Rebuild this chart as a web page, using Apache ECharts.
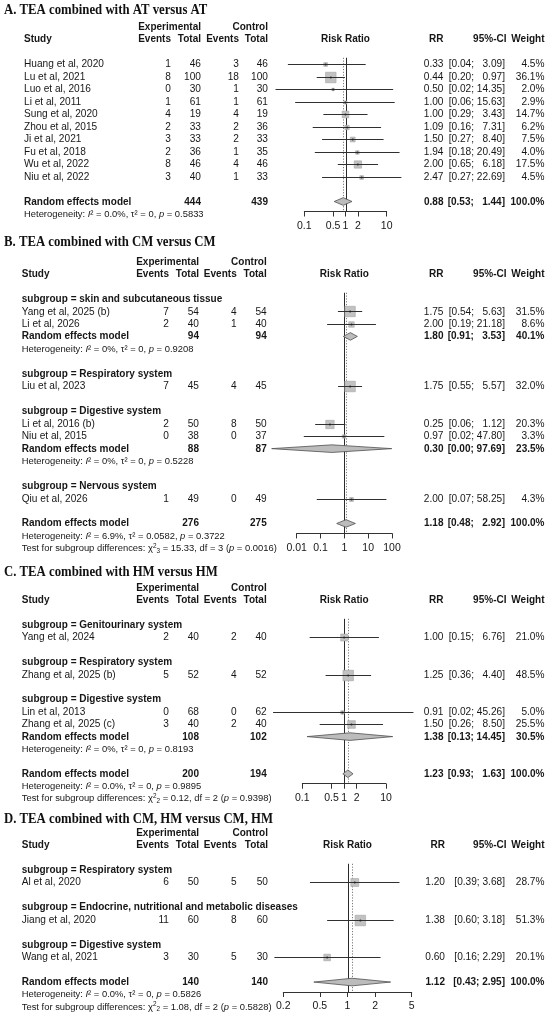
<!DOCTYPE html>
<html>
<head>
<meta charset="utf-8">
<script src="https://cdn.jsdelivr.net/npm/echarts@6/dist/echarts.min.js"></script>
<style>
  html, body { margin: 0; padding: 0; background: #fff; }
  #chart { width: 550px; height: 1033px; }
</style>
</head>
<body>
<div id="chart"></div>
<script>
// ---------- A. TEA combined with AT versus AT ----------
const A_title = 'A. TEA combined with AT versus AT';
const A_study = ['Huang et al, 2020', 'Lu et al, 2021', 'Luo et al, 2016', 'Li et al, 2011', 'Sung et al, 2020',
  'Zhou et al, 2015', 'Ji et al, 2021', 'Fu et al, 2018', 'Wu et al, 2022', 'Niu et al, 2022'];
const A_expEv = [1, 8, 0, 1, 4, 2, 3, 2, 8, 3];
const A_expN = [46, 100, 30, 61, 19, 33, 33, 36, 46, 40];
const A_ctlEv = [3, 18, 1, 1, 4, 2, 2, 1, 4, 1];
const A_ctlN = [46, 100, 30, 61, 19, 36, 33, 35, 46, 33];
const A_rr = [0.33, 0.44, 0.50, 1.00, 1.00, 1.09, 1.50, 1.94, 2.00, 2.47];
const A_lo = [0.04, 0.20, 0.02, 0.06, 0.29, 0.16, 0.27, 0.18, 0.65, 0.27];
const A_hi = [3.09, 0.97, 14.35, 15.63, 3.43, 7.31, 8.40, 20.49, 6.18, 22.69];
const A_w = [4.5, 36.1, 2.0, 2.9, 14.7, 6.2, 7.5, 4.0, 17.5, 4.5];
const A_overall = [0.88, 0.53, 1.44, 100.0];
const A_overallN = [444, 439];
const A_overallHet = ['0.0%', '0', '0.5833'];
const A_ticks = [0.1, 0.5, 1, 2, 10];

// ---------- B. TEA combined with CM versus CM ----------
const B_title = 'B. TEA combined with CM versus CM';
const B_groups = ['skin and subcutaneous tissue', 'Respiratory system', 'Digestive system', 'Nervous system'];
const B_study = ['Yang et al, 2025 (b)', 'Li et al, 2026', 'Liu et al, 2023', 'Li et al, 2016 (b)', 'Niu et al, 2015', 'Qiu et al, 2026'];
const B_group = [0, 0, 1, 2, 2, 3];
const B_expEv = [7, 2, 7, 2, 0, 1];
const B_expN = [54, 40, 45, 50, 38, 49];
const B_ctlEv = [4, 1, 4, 8, 0, 0];
const B_ctlN = [54, 40, 45, 50, 37, 49];
const B_rr = [1.75, 2.00, 1.75, 0.25, 0.97, 2.00];
const B_lo = [0.54, 0.19, 0.55, 0.06, 0.02, 0.07];
const B_hi = [5.63, 21.18, 5.57, 1.12, 47.80, 58.25];
const B_w = [31.5, 8.6, 32.0, 20.3, 3.3, 4.3];
const B_subRes = [[1.80, 0.91, 3.53, 40.1], null, [0.30, 0.0009, 97.69, 23.5], null];
const B_subN = [[94, 94], null, [88, 87], null];
const B_subHet = [['0%', '0', '0.9208'], null, ['0%', '0', '0.5228'], null];
const B_overall = [1.18, 0.48, 2.92, 100.0];
const B_overallN = [276, 275];
const B_overallHet = ['6.9%', '0.0582', '0.3722'];
const B_test = ['15.33', '3', '0.0016'];
const B_ticks = [0.01, 0.1, 1, 10, 100];

// ---------- C. TEA combined with HM versus HM ----------
const C_title = 'C. TEA combined with HM versus HM';
const C_groups = ['Genitourinary system', 'Respiratory system', 'Digestive system'];
const C_study = ['Yang et al, 2024', 'Zhang et al, 2025 (b)', 'Lin et al, 2013', 'Zhang et al, 2025 (c)'];
const C_group = [0, 1, 2, 2];
const C_expEv = [2, 5, 0, 3];
const C_expN = [40, 52, 68, 40];
const C_ctlEv = [2, 4, 0, 2];
const C_ctlN = [40, 52, 62, 40];
const C_rr = [1.00, 1.25, 0.91, 1.50];
const C_lo = [0.15, 0.36, 0.02, 0.26];
const C_hi = [6.76, 4.40, 45.26, 8.50];
const C_w = [21.0, 48.5, 5.0, 25.5];
const C_subRes = [null, null, [1.38, 0.13, 14.45, 30.5]];
const C_subN = [null, null, [108, 102]];
const C_subHet = [null, null, ['0%', '0', '0.8193']];
const C_overall = [1.23, 0.93, 1.63, 100.0];
const C_overallN = [200, 194];
const C_overallHet = ['0.0%', '0', '0.9895'];
const C_test = ['0.12', '2', '0.9398'];
const C_ticks = [0.1, 0.5, 1, 2, 10];

// ---------- D. TEA combined with CM, HM versus CM, HM ----------
const D_title = 'D. TEA combined with CM, HM versus CM, HM';
const D_groups = ['Respiratory system', 'Endocrine, nutritional and metabolic diseases', 'Digestive system'];
const D_study = ['Al et al, 2020', 'Jiang et al, 2020', 'Wang et al, 2021'];
const D_group = [0, 1, 2];
const D_expEv = [6, 11, 3];
const D_expN = [50, 60, 30];
const D_ctlEv = [5, 8, 5];
const D_ctlN = [50, 60, 30];
const D_rr = [1.20, 1.38, 0.60];
const D_lo = [0.39, 0.60, 0.16];
const D_hi = [3.68, 3.18, 2.29];
const D_w = [28.7, 51.3, 20.1];
const D_subRes = [null, null, null];
const D_subN = [null, null, null];
const D_subHet = [null, null, null];
const D_overall = [1.12, 0.43, 2.95, 100.0];
const D_overallN = [140, 140];
const D_overallHet = ['0.0%', '0', '0.5826'];
const D_test = ['1.08', '2', '0.5828'];
const D_ticks = [0.2, 0.5, 1, 2, 5];

// panel descriptors built from the arrays above
const panels = [
  { title: A_title, study: A_study, groups: null, group: null, expEv: A_expEv, expN: A_expN, ctlEv: A_ctlEv, ctlN: A_ctlN,
    rr: A_rr, lo: A_lo, hi: A_hi, w: A_w, overall: A_overall, overallN: A_overallN, overallHet: A_overallHet, test: null, ticks: A_ticks },
  { title: B_title, study: B_study, groups: B_groups, group: B_group, expEv: B_expEv, expN: B_expN, ctlEv: B_ctlEv, ctlN: B_ctlN,
    rr: B_rr, lo: B_lo, hi: B_hi, w: B_w, subRes: B_subRes, subN: B_subN, subHet: B_subHet,
    overall: B_overall, overallN: B_overallN, overallHet: B_overallHet, test: B_test, ticks: B_ticks },
  { title: C_title, study: C_study, groups: C_groups, group: C_group, expEv: C_expEv, expN: C_expN, ctlEv: C_ctlEv, ctlN: C_ctlN,
    rr: C_rr, lo: C_lo, hi: C_hi, w: C_w, subRes: C_subRes, subN: C_subN, subHet: C_subHet,
    overall: C_overall, overallN: C_overallN, overallHet: C_overallHet, test: C_test, ticks: C_ticks },
  { title: D_title, study: D_study, groups: D_groups, group: D_group, expEv: D_expEv, expN: D_expN, ctlEv: D_ctlEv, ctlN: D_ctlN,
    rr: D_rr, lo: D_lo, hi: D_hi, w: D_w, subRes: D_subRes, subN: D_subN, subHet: D_subHet,
    overall: D_overall, overallN: D_overallN, overallHet: D_overallHet, test: D_test, ticks: D_ticks }
];

// pixel layout of each panel
const layouts = [
  { titleY: 10,  row0: 64,  step: 12.5,  left: 304.3, right: 386.7, textX: 24,   cols: [171, 201, 239, 268],   rrX: 443.5 },
  { titleY: 242, row0: 299, step: 12.47, left: 296.6, right: 392,   textX: 21.7, cols: [169, 199, 236.7, 266.7], rrX: 443.5 },
  { titleY: 572, row0: 625, step: 12.4,  left: 302.3, right: 386,   textX: 21.7, cols: [169, 199, 236.7, 266.7], rrX: 443.5 },
  { titleY: 819, row0: 870, step: 12.45, left: 283.3, right: 411.7, textX: 21.7, cols: [169, 199, 236.7, 268],   rrX: 445 }
];
const CI_X = 505, W_X = 544.5, BOX_MAX = 10.5, DIA_H = 3.8;
const FONT = '"Liberation Sans", Arial, sans-serif';
const INK = '#161616';

// body text: slightly tall, horizontally narrowed like the source figure
function txt(x, y, text, align, bold) {
  return { type: 'text', x: x, y: y, scaleX: bold ? 0.91 : 0.92,
    style: { text: text, fontSize: 11, fontWeight: bold ? 'bold' : 'normal',
      fontFamily: FONT, fill: INK, align: align || 'left', verticalAlign: 'middle' } };
}
function richTxt(x, y, text) {
  const base = { fontSize: 9.6, fontFamily: FONT, fill: INK };
  return { type: 'text', x: x, y: y, scaleX: 0.98, style: Object.assign({ text: text, align: 'left', verticalAlign: 'middle',
    rich: { n: Object.assign({}, base, { lineHeight: 12 }), i: Object.assign({}, base, { fontStyle: 'italic', lineHeight: 12 }),
      sup: Object.assign({}, base, { fontSize: 6.5, verticalAlign: 'top', lineHeight: 12 }),
      sub: Object.assign({}, base, { fontSize: 6.5, verticalAlign: 'bottom', lineHeight: 12 }) } }, base) };
}

function buildRows(P) {
  const rows = [{ r: -3, kind: 'hdr1' }, { r: -2, kind: 'hdr2' }];
  const studyRows = [];
  const diamonds = [];
  let r = 0;
  if (!P.groups) {
    P.study.forEach((s, i) => { rows.push({ r: r, kind: 'study', i: i }); studyRows[i] = r; r++; });
    r++;
  } else {
    P.groups.forEach((g, gi) => {
      rows.push({ r: r, kind: 'sub', text: 'subgroup = ' + g }); r++;
      P.study.forEach((s, i) => {
        if (P.group[i] === gi) { rows.push({ r: r, kind: 'study', i: i }); studyRows[i] = r; r++; }
      });
      if (P.subRes[gi]) {
        rows.push({ r: r, kind: 're', n: P.subN[gi], res: P.subRes[gi] });
        diamonds.push([P.subRes[gi][0], r, P.subRes[gi][1], P.subRes[gi][2]]); r++;
        rows.push({ r: r, kind: 'het', het: P.subHet[gi] }); r++;
      }
      r++;
    });
  }
  const overallRow = r;
  rows.push({ r: r, kind: 're', n: P.overallN, res: P.overall });
  diamonds.push([P.overall[0], r, P.overall[1], P.overall[2]]); r++;
  rows.push({ r: r, kind: 'het', het: P.overallHet }); r++;
  if (P.test) rows.push({ r: r, kind: 'test', test: P.test });
  return { rows, studyRows, diamonds, overallRow };
}

const grids = [], xAxes = [], yAxes = [], series = [], graphics = [];

panels.forEach((P, k) => {
  const L = layouts[k];
  const B = buildRows(P);
  const axisRow = B.overallRow + 0.8;
  const maxW = Math.max.apply(null, P.w);
  const allHi = P.hi.concat([P.overall[2]], (P.subRes || []).filter(Boolean).map(s => s[2]));
  const pad = allHi.some(h => h >= 10);
  const ci = (lo, hi) => '[' + lo.toFixed(2) + '; ' + (pad && hi < 10 ? '  ' : '') + hi.toFixed(2) + ']';

  grids.push({ left: L.left, width: L.right - L.left, top: L.row0 - L.step, height: (axisRow + 1) * L.step });
  xAxes.push({
    gridIndex: k, type: 'log', logBase: 10, min: P.ticks[0], max: P.ticks[P.ticks.length - 1],
    axisLine: { onZero: false, lineStyle: { color: '#333', width: 1 } },
    axisTick: { customValues: P.ticks, length: 5, lineStyle: { color: '#333' } },
    axisLabel: { customValues: P.ticks, margin: 9, fontSize: 10.5, fontFamily: FONT, color: INK,
      formatter: v => String(+(+v).toPrecision(3)) },
    splitLine: { show: false }, minorTick: { show: false }
  });
  yAxes.push({ gridIndex: k, type: 'value', min: -1, max: axisRow, inverse: true, show: false, splitLine: { show: false } });

  graphics.push({ type: 'text', x: 4, y: L.titleY, scaleX: 0.88, style: { text: P.title, fontSize: 14.5, fontWeight: 'bold',
    fontFamily: '"Liberation Serif", "Times New Roman", serif', fill: '#111', verticalAlign: 'middle' } });

  // reference lines: no effect (solid) and pooled estimate (dotted)
  series.push({
    type: 'custom', xAxisIndex: k, yAxisIndex: k, clip: false, silent: true,
    data: [[1, -0.5, axisRow, 0], [P.overall[0], -0.5, axisRow, 1]],
    renderItem: (params, api) => {
      const a = api.coord([api.value(0), api.value(1)]);
      const b = api.coord([api.value(0), api.value(2)]);
      const x = Math.round(a[0]) + 0.5;
      const dotted = api.value(3) === 1;
      return { type: 'line', shape: { x1: x, y1: a[1], x2: x, y2: b[1] },
        style: { stroke: dotted ? '#7a7a7a' : '#2a2a2a', lineWidth: 1, lineDash: dotted ? [1.2, 1.6] : null } };
    }
  });

  // individual studies: box + CI line
  series.push({
    type: 'custom', xAxisIndex: k, yAxisIndex: k, clip: false, silent: true,
    data: P.study.map((s, i) => [P.rr[i], B.studyRows[i], P.lo[i], P.hi[i], P.w[i]]),
    renderItem: (params, api) => {
      const row = api.value(1);
      const c = api.coord([api.value(0), row]);
      const lo = api.coord([api.value(2), row]);
      const hi = api.coord([api.value(3), row]);
      const s = BOX_MAX * Math.sqrt(api.value(4) / maxW);
      const y = Math.round(c[1]) + 0.5;
      return { type: 'group', children: [
        { type: 'rect', shape: { x: c[0] - s / 2, y: y - s / 2, width: s, height: s },
          style: { fill: '#c2c2c2', stroke: '#a5a5a5', lineWidth: 0.6 } },
        { type: 'line', shape: { x1: lo[0], y1: y, x2: hi[0], y2: y }, style: { stroke: '#303030', lineWidth: 1 } },
        { type: 'circle', shape: { cx: c[0], cy: y, r: 1 }, style: { fill: '#222' } }
      ] };
    }
  });

  // pooled diamonds
  series.push({
    type: 'custom', xAxisIndex: k, yAxisIndex: k, clip: false, silent: true,
    data: B.diamonds,
    renderItem: (params, api) => {
      const row = api.value(1);
      const c = api.coord([api.value(0), row]);
      const lo = api.coord([api.value(2), row]);
      const hi = api.coord([api.value(3), row]);
      return { type: 'polygon', shape: { points: [[lo[0], c[1]], [c[0], c[1] - DIA_H], [hi[0], c[1]], [c[0], c[1] + DIA_H]] },
        style: { fill: '#bcbcbc', stroke: '#505050', lineWidth: 0.8 } };
    }
  });

  // table text, one item per row
  series.push({
    type: 'custom', xAxisIndex: k, yAxisIndex: k, clip: false, silent: true,
    data: B.rows.map(o => [1, o.r]),
    renderItem: (params, api) => {
      const o = B.rows[params.dataIndex];
      const pt = api.coord([1, o.r]);
      const y = pt[1];
      const ch = [];
      const C = L.cols;
      if (o.kind === 'hdr1') {
        ch.push(txt(C[1], y, 'Experimental', 'right', true));
        ch.push(txt(C[3], y, 'Control', 'right', true));
      } else if (o.kind === 'hdr2') {
        ch.push(txt(L.textX, y, 'Study', 'left', true));
        ch.push(txt(C[0], y, 'Events', 'right', true));
        ch.push(txt(C[1], y, 'Total', 'right', true));
        ch.push(txt(C[2], y, 'Events', 'right', true));
        ch.push(txt(C[3], y, 'Total', 'right', true));
        ch.push(txt(pt[0], y, 'Risk Ratio', 'center', true));
        ch.push(txt(L.rrX, y, 'RR', 'right', true));
        ch.push(txt(CI_X + 1.5, y, '95%-CI', 'right', true));
        ch.push(txt(W_X, y, 'Weight', 'right', true));
      } else if (o.kind === 'sub') {
        ch.push(txt(L.textX, y, o.text, 'left', true));
      } else if (o.kind === 'study') {
        const i = o.i;
        ch.push(txt(L.textX, y, P.study[i]));
        ch.push(txt(C[0], y, String(P.expEv[i]), 'right'));
        ch.push(txt(C[1], y, String(P.expN[i]), 'right'));
        ch.push(txt(C[2], y, String(P.ctlEv[i]), 'right'));
        ch.push(txt(C[3], y, String(P.ctlN[i]), 'right'));
        ch.push(txt(L.rrX, y, P.rr[i].toFixed(2), 'right'));
        ch.push(txt(CI_X, y, ci(P.lo[i], P.hi[i]), 'right'));
        ch.push(txt(W_X, y, P.w[i].toFixed(1) + '%', 'right'));
      } else if (o.kind === 're') {
        ch.push(txt(L.textX, y, 'Random effects model', 'left', true));
        ch.push(txt(C[1], y, String(o.n[0]), 'right', true));
        ch.push(txt(C[3], y, String(o.n[1]), 'right', true));
        ch.push(txt(L.rrX, y, o.res[0].toFixed(2), 'right', true));
        ch.push(txt(CI_X, y, ci(o.res[1], o.res[2]), 'right', true));
        ch.push(txt(W_X, y, o.res[3].toFixed(1) + '%', 'right', true));
      } else if (o.kind === 'het') {
        const h = o.het;
        ch.push(richTxt(L.textX, y, '{n|Heterogeneity: }{i|I}{n|\u00b2 = ' + h[0] + ', \u03c4\u00b2 = ' + h[1] + ', }{i|p}{n| = ' + h[2] + '}'));
      } else if (o.kind === 'test') {
        const t = o.test;
        ch.push(richTxt(L.textX, y, '{n|Test for subgroup differences: \u03c7}{sup|2}{sub|' + t[1] + '}{n| = ' + t[0] + ', df = ' + t[1] + ' (}{i|p}{n| = ' + t[2] + ')}'));
      }
      return { type: 'group', children: ch };
    }
  });
});

const chart = echarts.init(document.getElementById('chart'), null, { renderer: 'canvas' });
chart.setOption({
  animation: false,
  backgroundColor: '#ffffff',
  grid: grids,
  xAxis: xAxes,
  yAxis: yAxes,
  graphic: graphics,
  series: series
});
</script>
</body>
</html>
